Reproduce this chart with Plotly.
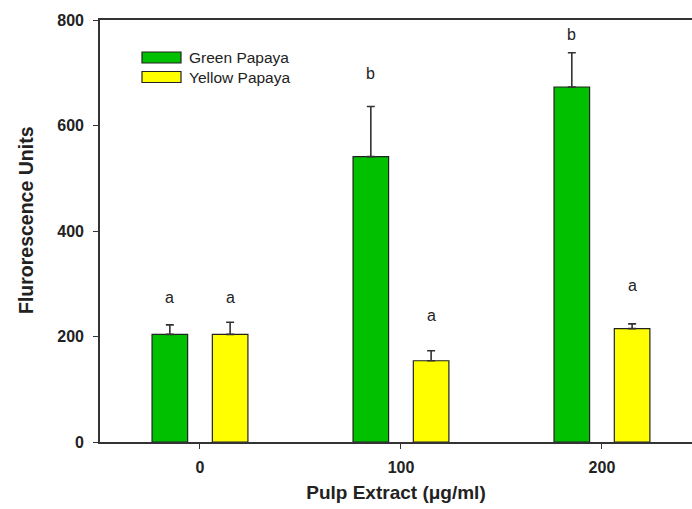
import plotly.graph_objects as go

doses = [0, 100, 200]
tick_labels = ["0", "100", "200"]
green_vals = [204, 541, 673]
green_err = [18, 95, 65]
yellow_vals = [204, 154, 215]
yellow_err = [23, 19, 9]
green_letters = ["a", "b", "b"]
yellow_letters = ["a", "a", "a"]
green_letter_y = [273, 698, 772]
yellow_letter_y = [273, 239, 296]

FONT = "Liberation Sans, Arial, sans-serif"
W, H = 592, 422
fig = go.Figure()
fig.add_trace(go.Bar(
    x=doses, y=green_vals, name="Green Papaya",
    marker=dict(color="#00C000", line=dict(color="#222222", width=1.2)),
    error_y=dict(type="data", array=green_err, arrayminus=[0]*3, symmetric=False,
                 color="#333333", thickness=1.6, width=4),
))
fig.add_trace(go.Bar(
    x=doses, y=yellow_vals, name="Yellow Papaya",
    marker=dict(color="#FFFF00", line=dict(color="#222222", width=1.2)),
    error_y=dict(type="data", array=yellow_err, arrayminus=[0]*3, symmetric=False,
                 color="#333333", thickness=1.6, width=4),
))

# significance letters (bars centered at +/- 15 units within a group)
for d, l, yy in zip(doses, green_letters, green_letter_y):
    fig.add_annotation(x=d - 15, y=yy, text=l, showarrow=False,
                       font=dict(family=FONT, size=16, color="#222"))
for d, l, yy in zip(doses, yellow_letters, yellow_letter_y):
    fig.add_annotation(x=d + 15, y=yy, text=l, showarrow=False,
                       font=dict(family=FONT, size=16, color="#222"))

# custom legend
legend_items = [("Green Papaya", "#00C000"), ("Yellow Papaya", "#FFFF00")]
for i, (name, col) in enumerate(legend_items):
    yc = 57.5 + i * 19.5  # px from top of page
    fig.add_shape(type="rect", xref="paper", yref="paper",
                  x0=(142 - 100) / W, x1=(181 - 100) / W,
                  y0=1 - (yc - 5.5 - 20) / H, y1=1 - (yc + 5.5 - 20) / H,
                  fillcolor=col, line=dict(color="#222222", width=1.2))
    fig.add_annotation(xref="paper", yref="paper", x=(187 - 100) / W,
                       y=1 - (yc - 20) / H, text=name, showarrow=False,
                       xanchor="left", yanchor="middle",
                       font=dict(family=FONT, size=15.5, color="#222"))

# y-axis title
fig.add_annotation(xref="paper", yref="paper", x=(26 - 100) / W, y=(442 - 220) / H,
                   text="Flurorescence Units", textangle=-90, showarrow=False,
                   xanchor="center", yanchor="middle",
                   font=dict(family=FONT, size=19.5, color="#222", weight="bold"))

fig.update_layout(
    width=692, height=509,
    margin=dict(l=100, r=0, t=20, b=67),
    barmode="group", bargap=0.4, bargroupgap=0.41,
    plot_bgcolor="white", paper_bgcolor="white",
    showlegend=False,
    font=dict(family=FONT, color="#222"),
)
fig.update_xaxes(
    range=[-49.75, 244.8], tickvals=doses, ticktext=tick_labels,
    showline=True, linecolor="#333333", linewidth=1.6, mirror=True,
    ticks="outside", ticklen=5, tickwidth=1.4, tickcolor="#333333",
    showgrid=False, zeroline=False, ticklabelstandoff=5,
    tickfont=dict(family=FONT, size=16, color="#222", weight="bold"),
    title=dict(text="Pulp Extract (μg/ml)", standoff=11,
               font=dict(family=FONT, size=19, color="#222", weight="bold")),
)
fig.update_yaxes(
    range=[0, 800], tickvals=[0, 200, 400, 600, 800],
    showline=True, linecolor="#333333", linewidth=1.6,
    ticks="outside", ticklen=5, tickwidth=1.4, tickcolor="#333333",
    showgrid=False, zeroline=False, ticklabelstandoff=6,
    tickfont=dict(family=FONT, size=16, color="#222", weight="bold"),
)
fig.write_html("out.html")
